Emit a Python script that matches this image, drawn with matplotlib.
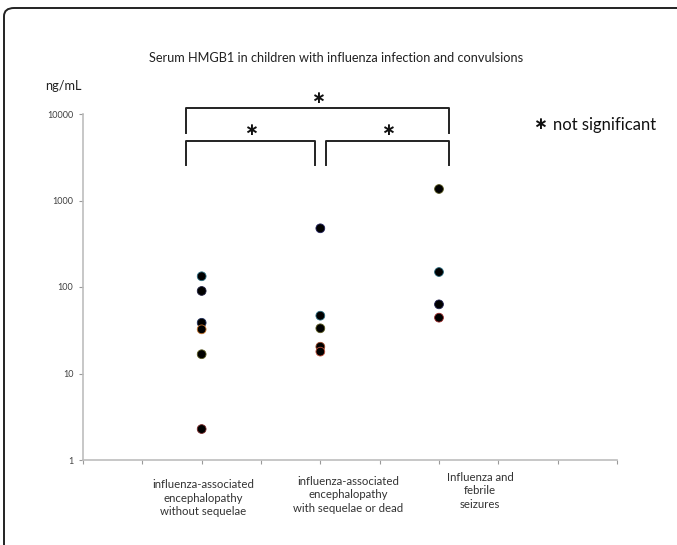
import matplotlib
matplotlib.use("Agg")
import matplotlib.pyplot as plt
from matplotlib.patches import FancyBboxPatch

plt.rcParams['font.family'] = ['Lato', 'DejaVu Sans']

# group positions on the 0-9 x scale
group_x = [2, 4, 6]
group_labels = [
    "influenza-associated\nencephalopathy\nwithout sequelae",
    "influenza-associated\nencephalopathy\nwith sequelae or dead",
    "Influenza and\nfebrile\nseizures",
]
g1_values = [133, 90, 38.6, 32.4, 16.7, 2.28]
g2_values = [477, 46.6, 33.3, 20.4, 17.9]
g3_values = [1358, 149, 63, 44.2]
g1_edges = ["#2a6a7e", "#202040", "#20305a", "#c0702a", "#5a5a20", "#7a2a2a"]
g2_edges = ["#20205a", "#2a6a7e", "#5a5a20", "#9a4a2a", "#c0503a"]
g3_edges = ["#5a5a20", "#2a6a7e", "#202050", "#9a2a2a"]
y_ticks = [1, 10, 100, 1000, 10000]

W, H = 677, 545
fig = plt.figure(figsize=(W / 100, H / 100), dpi=100)
ax = fig.add_axes([83 / W, 1 - 460 / H, (617 - 83) / W, (460 - 114) / H])

for x, vals, edges in [(group_x[0], g1_values, g1_edges),
                       (group_x[1], g2_values, g2_edges),
                       (group_x[2], g3_values, g3_edges)]:
    ax.scatter([x] * len(vals), vals, s=40, c="black", edgecolors=edges,
               linewidths=0.6, zorder=3)

ax.set_yscale("log")
ax.set_ylim(1, 10000)
ax.set_xlim(0, 9)
ax.set_yticks(y_ticks)
ax.set_yticklabels([str(t) for t in y_ticks], fontsize=6.5)
ax.yaxis.set_minor_locator(matplotlib.ticker.NullLocator())
ax.set_xticks(range(10))
ax.set_xticklabels([])
for s in ["top", "right"]:
    ax.spines[s].set_visible(False)
for s in ["left", "bottom"]:
    ax.spines[s].set_color("#bdbdbd")
    ax.spines[s].set_linewidth(1.2)
ax.tick_params(axis="both", colors="#9a9a9a", length=3, width=0.8,
               labelcolor="#404040")
ax.tick_params(axis="y", pad=4)

# category labels under the axis
label_pos = [(203, 498), (348, 495), (480, 491)]
for (px, py), lab in zip(label_pos, group_labels):
    fig.text(px / W, 1 - py / H, lab, ha="center", va="center",
             fontsize=8.2, color="#333333", linespacing=1.25)

fig.text(149 / W, 1 - 58 / H,
         "Serum HMGB1 in children with influenza infection and convulsions",
         ha="left", va="center", fontsize=9.2, color="#222222")
fig.text(45 / W, 1 - 86 / H, "ng/mL", ha="left", va="center",
         fontsize=9.2, color="#222222")
fig.text(540 / W, 1 - 124 / H, "\u2217", ha="center", va="center",
         fontsize=12, fontweight="bold", color="#111111",
         family="DejaVu Sans")
fig.text(553 / W, 1 - 125 / H, "not significant", ha="left", va="center",
         fontsize=12, color="#111111")


def bracket(x0, x1, top, bottom, star_y):
    xs = [x0 / W, x0 / W, x1 / W, x1 / W]
    ys = [1 - bottom / H, 1 - top / H, 1 - top / H, 1 - bottom / H]
    fig.add_artist(plt.Line2D(xs, ys, color="#222222", lw=1.4,
                              transform=fig.transFigure))
    fig.text((x0 + x1) / 2 / W, 1 - star_y / H, "\u2217", ha="center",
             va="center", fontsize=12, fontweight="bold", color="#111111",
             family="DejaVu Sans")


bracket(186, 449, 108, 133, 98)
bracket(186, 315, 141, 165, 130)
bracket(326, 449, 141, 165, 130)

# rounded frame (clipped at right/bottom)
frame = FancyBboxPatch((4 / W, -20 / H), (W + 20) / W, (H + 12) / H,
                       boxstyle="round,pad=0,rounding_size=0.015",
                       transform=fig.transFigure, fill=False,
                       edgecolor="#222222", lw=1.4)
fig.add_artist(frame)

fig.savefig("out.png", dpi=100)
